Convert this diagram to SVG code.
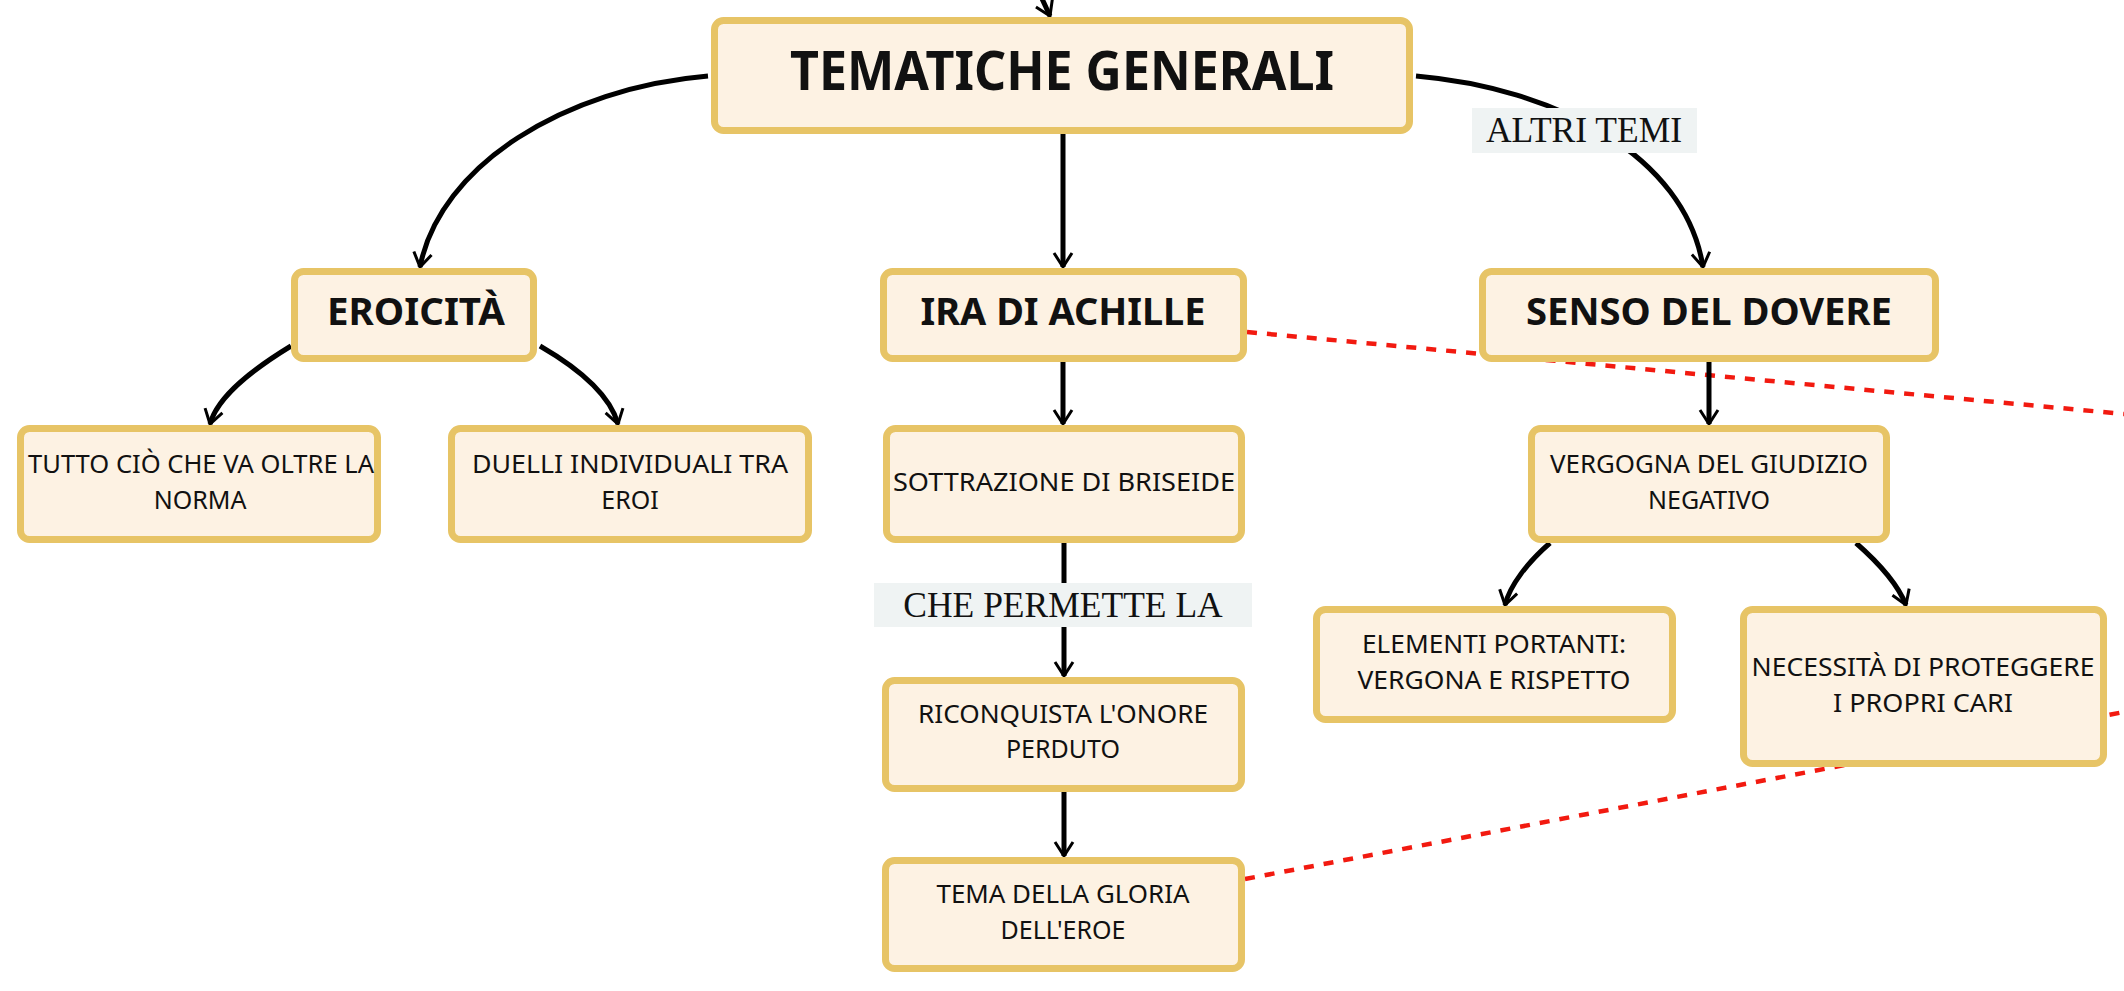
<svg xmlns="http://www.w3.org/2000/svg" width="2124" height="991" viewBox="0 0 2124 991">
<style>
.box{fill:#FDF2E3;stroke:#E7C466;stroke-width:7}
.big{font-family:"Noto Sans",sans-serif;font-weight:bold;fill:#111;text-anchor:middle}
.sm{font-family:"Noto Sans",sans-serif;font-size:25px;fill:#111;text-anchor:middle}
.lbl{font-family:"Liberation Serif",serif;font-size:35.5px;fill:#111;text-anchor:middle}
.con{fill:none;stroke:#000;stroke-width:5;marker-end:url(#ah)}
.dash{fill:none;stroke:#F21A10;stroke-width:4.5;stroke-dasharray:10 10}
</style>
<defs>
<marker id="ah" markerUnits="userSpaceOnUse" viewBox="-16 -12 20 24" markerWidth="20" markerHeight="24" refX="0" refY="0" orient="auto" overflow="visible">
<path d="M-14,-9 L0,0 L-14,9" fill="none" stroke="#000" stroke-width="3"/>
</marker>
</defs>
<rect width="2124" height="991" fill="#FFFFFF"/>
<g id="connectors">
<path class="dash" d="M1247 332 L2124 414"/>
<path class="dash" d="M1245 879 L2124 712"/>
<path class="con" d="M1038 -10 L1050 16"/>
<path class="con" d="M708 76 C565 88 440 165 420 267"/>
<path class="con" d="M1063 134 L1063 267"/>
<path class="con" d="M1416 76 C1555 88 1685 155 1703 267"/>
<path class="con" d="M291 346 C255 368 218 395 210 424"/>
<path class="con" d="M540 346 C578 368 610 395 618 424"/>
<path class="con" d="M1063 362 L1063 424"/>
<path class="con" d="M1709 362 L1709 424"/>
<path class="con" d="M1064 543 L1064 676"/>
<path class="con" d="M1064 792 L1064 856"/>
<path class="con" d="M1550 543 C1528 562 1510 585 1505 605"/>
<path class="con" d="M1856 543 C1880 564 1898 585 1906 605"/>
</g>
<g id="label-che-permette">
<rect x="874" y="583" width="378" height="44" fill="#EFF3F3"/>
<text class="lbl" x="1063" y="617">CHE PERMETTE LA</text>
</g>
<g id="label-altri-temi">
<rect x="1472" y="108" width="225" height="45" fill="#EFF3F3"/>
<text class="lbl" x="1584" y="142">ALTRI TEMI</text>
</g>
<g id="n-tematiche">
<rect class="box" x="714.5" y="20.5" width="695" height="110" rx="9"/>
<text class="big" x="1062" y="90" font-size="53" textLength="544" lengthAdjust="spacingAndGlyphs">TEMATICHE GENERALI</text>
</g>
<g id="n-eroicita">
<rect class="box" x="294.5" y="271.5" width="239" height="87" rx="9"/>
<text class="big" x="416" y="325" font-size="38" textLength="178" lengthAdjust="spacingAndGlyphs">EROICITÀ</text>
</g>
<g id="n-ira">
<rect class="box" x="883.5" y="271.5" width="360" height="87" rx="9"/>
<text class="big" x="1063" y="325" font-size="38" textLength="285" lengthAdjust="spacingAndGlyphs">IRA DI ACHILLE</text>
</g>
<g id="n-senso">
<rect class="box" x="1482.5" y="271.5" width="453" height="87" rx="9"/>
<text class="big" x="1709" y="325" font-size="38" textLength="366" lengthAdjust="spacingAndGlyphs">SENSO DEL DOVERE</text>
</g>
<g id="n-tutto">
<rect class="box" x="20.5" y="428.5" width="357" height="111" rx="9"/>
<text class="sm" x="201" y="473" textLength="346" lengthAdjust="spacingAndGlyphs">TUTTO CIÒ CHE VA OLTRE LA</text>
<text class="sm" x="200" y="509">NORMA</text>
</g>
<g id="n-duelli">
<rect class="box" x="451.5" y="428.5" width="357" height="111" rx="9"/>
<text class="sm" x="630" y="473" textLength="316" lengthAdjust="spacingAndGlyphs">DUELLI INDIVIDUALI TRA</text>
<text class="sm" x="630" y="509">EROI</text>
</g>
<g id="n-sottrazione">
<rect class="box" x="886.5" y="428.5" width="355" height="111" rx="9"/>
<text class="sm" x="1064" y="491" textLength="342" lengthAdjust="spacingAndGlyphs">SOTTRAZIONE DI BRISEIDE</text>
</g>
<g id="n-vergogna">
<rect class="box" x="1531.5" y="428.5" width="355" height="111" rx="9"/>
<text class="sm" x="1709" y="473" textLength="318" lengthAdjust="spacingAndGlyphs">VERGOGNA DEL GIUDIZIO</text>
<text class="sm" x="1709" y="509">NEGATIVO</text>
</g>
<g id="n-elementi">
<rect class="box" x="1316.5" y="609.5" width="356" height="110" rx="9"/>
<text class="sm" x="1494" y="653" textLength="264" lengthAdjust="spacingAndGlyphs">ELEMENTI PORTANTI:</text>
<text class="sm" x="1494" y="689" textLength="273" lengthAdjust="spacingAndGlyphs">VERGONA E RISPETTO</text>
</g>
<g id="n-necessita">
<rect class="box" x="1743.5" y="609.5" width="360" height="154" rx="9"/>
<text class="sm" x="1923" y="676" textLength="343" lengthAdjust="spacingAndGlyphs">NECESSITÀ DI PROTEGGERE</text>
<text class="sm" x="1923" y="712" textLength="180" lengthAdjust="spacingAndGlyphs">I PROPRI CARI</text>
</g>
<g id="n-riconquista">
<rect class="box" x="885.5" y="680.5" width="356" height="108" rx="9"/>
<text class="sm" x="1063" y="723" textLength="290" lengthAdjust="spacingAndGlyphs">RICONQUISTA L'ONORE</text>
<text class="sm" x="1063" y="758">PERDUTO</text>
</g>
<g id="n-tema">
<rect class="box" x="885.5" y="860.5" width="356" height="108" rx="9"/>
<text class="sm" x="1063" y="903" textLength="253" lengthAdjust="spacingAndGlyphs">TEMA DELLA GLORIA</text>
<text class="sm" x="1063" y="939">DELL'EROE</text>
</g>
</svg>
